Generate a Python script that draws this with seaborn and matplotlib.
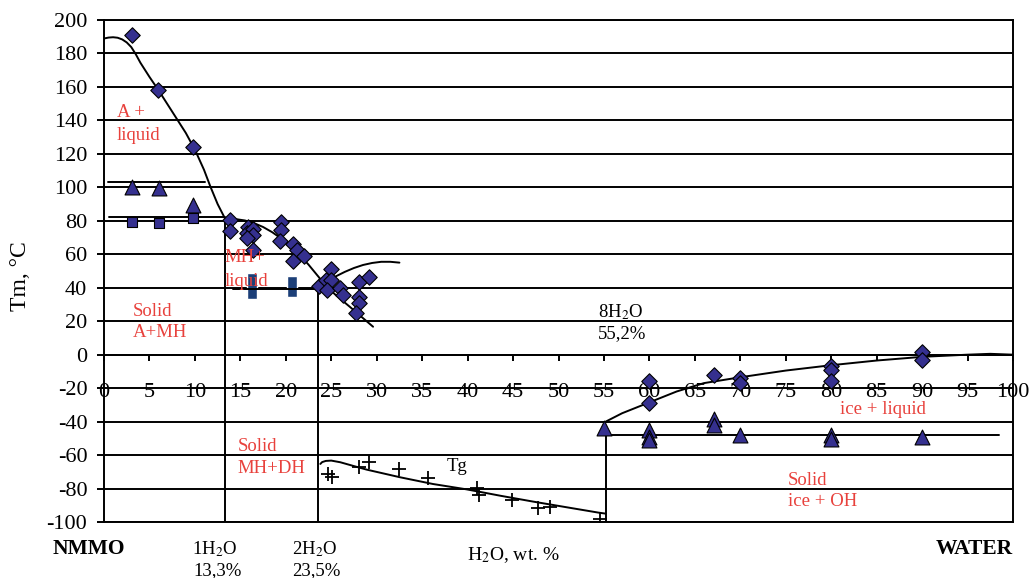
import numpy as np
import pandas as pd
import matplotlib
matplotlib.use("Agg")
import matplotlib.pyplot as plt
import seaborn as sns

# ---- measured points -------------------------------------------------------
# melting temperatures (diamonds)
melt_x = [3.1, 5.9, 9.8,
          13.9, 13.9, 15.8, 15.7, 16.4, 16.4, 15.7, 16.4,
          19.5, 19.5, 19.4, 20.8, 21.2, 20.8, 22.0,
          23.6, 24.4, 25.0, 25.0, 24.5, 26.0, 26.3,
          28.0, 29.2, 28.0, 28.0, 27.7,
          60.0, 60.0, 67.1, 70.0, 70.0, 80.0, 80.0, 80.0, 90.0, 90.0]
melt_y = [191, 158, 124,
          80.5, 74, 76, 72.5, 75, 71.5, 69.6, 62.6,
          79, 74.5, 68, 66, 62.6, 56, 59,
          41.3, 44.6, 51, 44.6, 38.7, 39.7, 35.7,
          43.6, 46.6, 34.7, 30.7, 24.7,
          -16, -29, -12, -14, -16.7, -7, -9, -16, 1.8, -3.2]

# solid-solid transition temperatures (triangles)
trans_x = [3.05, 6.0, 9.8, 55.0, 60.0, 60.0, 60.0, 67.1, 67.1, 70.0, 80.0, 80.0, 90.0]
trans_y = [100.4, 99.5, 89.5, -43.8, -45, -49, -51, -38.6, -42, -48, -48, -50.6, -49]

# second transition (squares)
sq_x = [3.05, 6.0, 9.8]
sq_y = [79.1, 78.5, 81.5]

# glass transition (plus signs)
tg_x = [24.6, 25.1, 28.0, 29.2, 32.4, 35.6, 41.0, 41.2, 44.9, 47.7, 49.1, 54.6]
tg_y = [-71.3, -72.9, -67.3, -64.0, -68.5, -73.9, -79.5, -83.9, -86.8, -91.4, -90.9, -98.4]

# monohydrate melting range (bars)
mh_x = [16.3, 20.7]
mh_low = [33.5, 34.5]
mh_high = [49.0, 47.0]

# ---- phase boundaries --------------------------------------------------------
liqA_x = [-0.3, 0.5, 1.0, 1.5, 2.0, 2.5, 3.0, 3.5, 4.0, 5.0, 6.0, 7.0, 8.0, 9.0,
          10.0, 11.0, 11.7, 12.5, 13.3]
liqA_y = [188.6, 189.5, 189.7, 189.4, 188.4, 186.6, 183.8, 179.5, 174.5, 166, 158,
          149.5, 141, 132.5, 122.5, 110.5, 100.5, 90, 81.5]

liqMH_x = [13.3, 14.5, 15.5, 16.5, 17.5, 18.5, 19.5, 20.5, 21.5, 22.5, 23.5, 24.5,
           25.5, 27.0, 28.5, 29.6]
liqMH_y = [81.5, 81.0, 80.2, 78.6, 76.3, 73.2, 69.4, 65.0, 59.8, 53.8, 47.2, 40.7,
           35.6, 28.8, 21.8, 16.7]

liqDH_x = [23.5, 24.5, 25.5, 26.5, 27.5, 28.5, 29.5, 30.5, 31.5, 32.5]
liqDH_y = [39.7, 43.6, 46.8, 49.5, 51.8, 53.6, 54.8, 55.5, 55.5, 55.0]

tgc_x = [23.8, 24.0, 24.4, 25.0, 26.0, 27.5, 28.9, 32.6, 36.2, 39.9, 43.6, 47.2,
         50.9, 54.4, 55.2]
tgc_y = [-65.3, -64.2, -63.5, -63.3, -64.3, -66.6, -68.7, -73.3, -77.3, -80.5,
         -84.3, -87.8, -91.2, -94.4, -95]

ice_x = [55.2, 57, 60, 63, 66, 70, 75, 80, 85, 90, 95, 97.5, 100]
ice_y = [-40, -35, -28.5, -22, -17, -13.5, -9.5, -6.3, -3.5, -1.3, 0, 0.5, 0]

# straight boundaries: (x0, x1, y)
hlines = [(0.4, 11.1, 103), (0.6, 13.3, 82), (14.2, 23.5, 39.5), (55.2, 98.5, -48)]
# hydrate compositions: (x, y_top)
vlines = [(13.3, 81.5), (23.5, 39.7), (55.2, -44)]

x_ticks = list(range(0, 101, 5))
y_ticks = list(range(-100, 201, 20))

# ---- style -------------------------------------------------------------------
sns.set_theme(style="ticks")
plt.rcParams["font.family"] = ["Liberation Serif", "DejaVu Serif"]
plt.rcParams["mathtext.fontset"] = "stix"
plt.rcParams["axes.unicode_minus"] = False

MARK = "#35308f"
RED = "#e8413c"
LW = 1.4

fig = plt.figure(figsize=(10.31, 5.78), dpi=100)
ax = fig.add_axes([104 / 1031, 1 - 522 / 578, 909 / 1031, 502 / 578])

# grid and frame
ax.set_xlim(0, 100)
ax.set_ylim(-100, 200)
ax.set_yticks(y_ticks)
ax.set_xticks([])
ax.yaxis.grid(True, color="black", lw=LW)
for s in ax.spines.values():
    s.set_color("black")
    s.set_linewidth(LW)
ax.tick_params(axis="y", direction="out", length=5, width=LW, pad=7,
               labelsize=16, colors="black")

# boundary curves
for cx, cy in [(liqA_x, liqA_y), (liqMH_x, liqMH_y), (liqDH_x, liqDH_y),
               (tgc_x, tgc_y), (ice_x, ice_y)]:
    sns.lineplot(x=cx, y=cy, sort=False, estimator=None, color="black",
                 lw=LW, ax=ax, zorder=3)
for x0, x1, yv in hlines:
    ax.plot([x0, x1], [yv, yv], color="black", lw=LW, zorder=3)
for xv, yt in vlines:
    ax.plot([xv, xv], [-100, yt], color="black", lw=LW, zorder=3)

# monohydrate bars
ax.bar(mh_x, np.array(mh_high) - np.array(mh_low), bottom=mh_low, width=1.05,
       color="#1c3f78", zorder=2)

# data points
sns.scatterplot(x=melt_x, y=melt_y, marker="D", s=62, color=MARK,
                edgecolor="black", linewidth=0.8, ax=ax, zorder=4)
sns.scatterplot(x=trans_x, y=trans_y, marker="^", s=115, color=MARK,
                edgecolor="black", linewidth=0.8, ax=ax, zorder=4)
sns.scatterplot(x=sq_x, y=sq_y, marker="s", s=62, color=MARK,
                edgecolor="black", linewidth=0.8, ax=ax, zorder=4)
sns.scatterplot(x=tg_x, y=tg_y, marker="+", s=95, color="black",
                linewidth=1.3, ax=ax, zorder=4)

# composition axis drawn along the 0 °C line
sec = ax.secondary_xaxis(1 / 3)
sec.set_xticks(x_ticks)
sec.set_xticklabels([str(v) for v in x_ticks])
sec.tick_params(direction="out", length=4.5, width=LW, pad=16,
                labelsize=16, colors="black")
sec.spines["bottom"].set_linewidth(LW)

ax.set_ylabel("Tm, °C", fontsize=17, color="black")
ax.yaxis.set_label_coords(-0.08, 0.49)

# region labels
red_labels = [
    (1.4, 145, "A +"), (1.4, 131, "liquid"),
    (13.3, 58, "MH+"), (13.3, 44, "liquid"),
    (3.2, 26, "Solid"), (3.2, 13, "A+MH"),
    (14.7, -55, "Solid"), (14.7, -68, "MH+DH"),
    (81.0, -32.5, "ice + liquid"),
    (75.2, -75, "Solid"), (75.2, -87.7, "ice + OH"),
]
for tx, ty, t in red_labels:
    ax.text(tx, ty, t, color=RED, fontsize=13.5, ha="left", va="center", zorder=5)

ax.text(54.3, 25.7, r"8H$_2$O", fontsize=13.5, color="black", va="center")
ax.text(54.3, 12.4, "55,2%", fontsize=13.5, color="black", va="center")
ax.text(37.7, -67, "Tg", fontsize=13.5, color="black", va="center")

# composition captions under the frame
cap = dict(xycoords=("data", "axes fraction"), annotation_clip=False,
           color="black", va="center")
ax.annotate("NMMO", (-1.7, -0.054), ha="center", fontsize=15.5, fontweight="bold", **cap)
ax.annotate(r"1H$_2$O", (12.2, -0.054), ha="center", fontsize=13.5, **cap)
ax.annotate("13,3%", (12.5, -0.096), ha="center", fontsize=13.5, **cap)
ax.annotate(r"2H$_2$O", (23.2, -0.054), ha="center", fontsize=13.5, **cap)
ax.annotate("23,5%", (23.4, -0.096), ha="center", fontsize=13.5, **cap)
ax.annotate(r"H$_2$O, wt. %", (45.0, -0.066), ha="center", fontsize=14, **cap)
ax.annotate("WATER", (100, -0.054), ha="right", fontsize=15.5, fontweight="bold", **cap)

fig.savefig("out.png", dpi=100)
